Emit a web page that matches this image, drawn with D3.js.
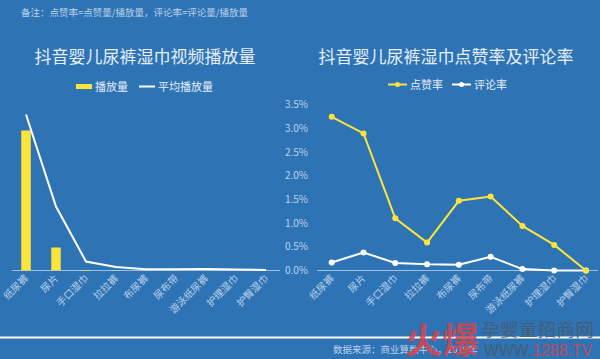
<!DOCTYPE html>
<html><head><meta charset="utf-8">
<script src="https://cdn.jsdelivr.net/npm/d3@7/dist/d3.min.js"></script>
<style>
html,body{margin:0;padding:0;background:#2e74b5;}
svg{display:block;font-family:"Noto Sans CJK SC","Noto Sans",sans-serif;}
</style></head>
<body>
<script>
const categories = ["纸尿裤","尿片","手口湿巾","拉拉裤","布尿裤","尿布带","游泳纸尿裤","护理湿巾","护臀湿巾"];
const playVolume = [14.0, 2.3, 0.05, 0.03, 0.02, 0.02, 0.02, 0.01, 0.01];
const avgPlay = [15.6, 6.4, 0.9, 0.35, 0.12, 0.12, 0.14, 0.1, 0.06];
const likeRate = [3.24, 2.89, 1.10, 0.59, 1.47, 1.56, 0.94, 0.54, 0.0];
const commentRate = [0.17, 0.38, 0.16, 0.13, 0.12, 0.29, 0.03, 0.0, 0.0];
const rateTicks = [0, 0.5, 1.0, 1.5, 2.0, 2.5, 3.0, 3.5];

const W = 600, H = 359;
const svg = d3.select("body").append("svg").attr("width", W).attr("height", H);
svg.append("rect").attr("width", W).attr("height", H).attr("fill", "#2e74b5");

const txt = "#e6eef8", dim = "#bcd0ea", axisC = "#9fbfe2", yellow = "#fde43c";

// note
svg.append("text").attr("x", 21).attr("y", 16).attr("font-size", 9.5).attr("fill", dim)
  .text("备注：点赞率=点赞量/播放量，评论率=评论量/播放量");

// titles
svg.append("text").attr("x", 145).attr("y", 63).attr("text-anchor", "middle").attr("font-size", 17).attr("fill", txt)
  .text("抖音婴儿尿裤湿巾视频播放量");
svg.append("text").attr("x", 446).attr("y", 63).attr("text-anchor", "middle").attr("font-size", 17).attr("fill", txt)
  .text("抖音婴儿尿裤湿巾点赞率及评论率");

// left legend
svg.append("rect").attr("x", 76).attr("y", 84).attr("width", 16).attr("height", 5).attr("fill", yellow);
svg.append("text").attr("x", 95).attr("y", 91).attr("font-size", 11).attr("fill", txt).text("播放量");
svg.append("line").attr("x1", 139).attr("x2", 155).attr("y1", 86.5).attr("y2", 86.5).attr("stroke", "#fff").attr("stroke-width", 2);
svg.append("text").attr("x", 158).attr("y", 91).attr("font-size", 11).attr("fill", txt).text("平均播放量");

// right legend
svg.append("line").attr("x1", 388).attr("x2", 407).attr("y1", 84.5).attr("y2", 84.5).attr("stroke", yellow).attr("stroke-width", 2);
svg.append("circle").attr("cx", 397.5).attr("cy", 84.5).attr("r", 2.5).attr("fill", yellow);
svg.append("text").attr("x", 410).attr("y", 89).attr("font-size", 11).attr("fill", txt).text("点赞率");
svg.append("line").attr("x1", 452).attr("x2", 471).attr("y1", 84.5).attr("y2", 84.5).attr("stroke", "#fff").attr("stroke-width", 2);
svg.append("circle").attr("cx", 461.5).attr("cy", 84.5).attr("r", 2.5).attr("fill", "#fff");
svg.append("text").attr("x", 474).attr("y", 89).attr("font-size", 11).attr("fill", txt).text("评论率");

// ---------- left chart ----------
const xL = d3.scalePoint().domain(categories).range([26, 266]);
const yL = d3.scaleLinear().domain([0, 16]).range([270.5, 110.5]);
svg.append("line").attr("x1", 12).attr("x2", 280).attr("y1", 270.5).attr("y2", 270.5).attr("stroke", axisC).attr("stroke-width", 1);
svg.append("g").selectAll("rect").data(categories).join("rect")
  .attr("x", d => xL(d) - 4.75).attr("width", 9.5)
  .attr("y", (d, i) => yL(playVolume[i])).attr("height", (d, i) => yL(0) - yL(playVolume[i]))
  .attr("fill", yellow);
svg.append("path").datum(avgPlay)
  .attr("d", d3.line().x((d, i) => xL(categories[i])).y(d => yL(d)))
  .attr("fill", "none").attr("stroke", "#fff").attr("stroke-width", 2);

function catLabels(x) {
  svg.append("g").selectAll("text").data(categories).join("text")
    .attr("transform", d => `translate(${x(d) + 3},${279}) rotate(-45)`)
    .attr("text-anchor", "end").attr("font-size", 10).attr("fill", dim).text(d => d);
}
catLabels(xL);

// ---------- right chart ----------
const xR = d3.scalePoint().domain(categories).range([331.7, 586]);
const yR = d3.scaleLinear().domain([0, 3.5]).range([270.5, 104.5]);
svg.append("line").attr("x1", 317).attr("x2", 598).attr("y1", 270.5).attr("y2", 270.5).attr("stroke", axisC).attr("stroke-width", 1);
const yAxis = d3.axisLeft(yR).tickValues(rateTicks).tickSize(0).tickPadding(0).tickFormat(d => d.toFixed(1) + "%");
const ga = svg.append("g").attr("transform", "translate(308,0)").call(yAxis);
ga.select(".domain").remove();
ga.selectAll("text").attr("font-size", 10).attr("fill", dim).attr("font-family", "'Noto Sans CJK SC','Noto Sans',sans-serif");

function series(vals, color) {
  svg.append("path").datum(vals)
    .attr("d", d3.line().x((d, i) => xR(categories[i])).y(d => yR(d)))
    .attr("fill", "none").attr("stroke", color).attr("stroke-width", 2);
  svg.append("g").selectAll("circle").data(vals).join("circle")
    .attr("cx", (d, i) => xR(categories[i])).attr("cy", d => yR(d)).attr("r", 3).attr("fill", color);
}
series(commentRate, "#fff");
series(likeRate, yellow);
catLabels(xR);

// footer
svg.append("line").attr("x1", 0).attr("x2", W).attr("y1", 337.5).attr("y2", 337.5).attr("stroke", "#fff").attr("stroke-width", 2);
svg.append("text").attr("x", 333).attr("y", 353).attr("font-size", 9.5).attr("fill", dim).text("数据来源：商业算数中心，2019年");

// watermark
const wm = svg.append("g").attr("opacity", 0.85);
wm.append("text").attr("x", 405).attr("y", 354).attr("font-size", 36).attr("font-weight", "bold")
  .attr("textLength", 74).attr("lengthAdjust", "spacingAndGlyphs").attr("fill", "#d2454d").text("火爆");
wm.append("text").attr("x", 481).attr("y", 336).attr("font-size", 17)
  .attr("textLength", 113).attr("lengthAdjust", "spacingAndGlyphs").attr("fill", "#4a5a6a").text("孕婴童招商网");
wm.append("text").attr("x", 484).attr("y", 356).attr("font-size", 16).attr("font-family", "Liberation Sans, sans-serif")
  .attr("textLength", 108).attr("lengthAdjust", "spacingAndGlyphs")
  .call(t => { t.append("tspan").attr("fill", "#4a5a6a").text("WWW."); t.append("tspan").attr("fill", "#d2454d").text("1288.TV"); });
</script>
</body></html>
